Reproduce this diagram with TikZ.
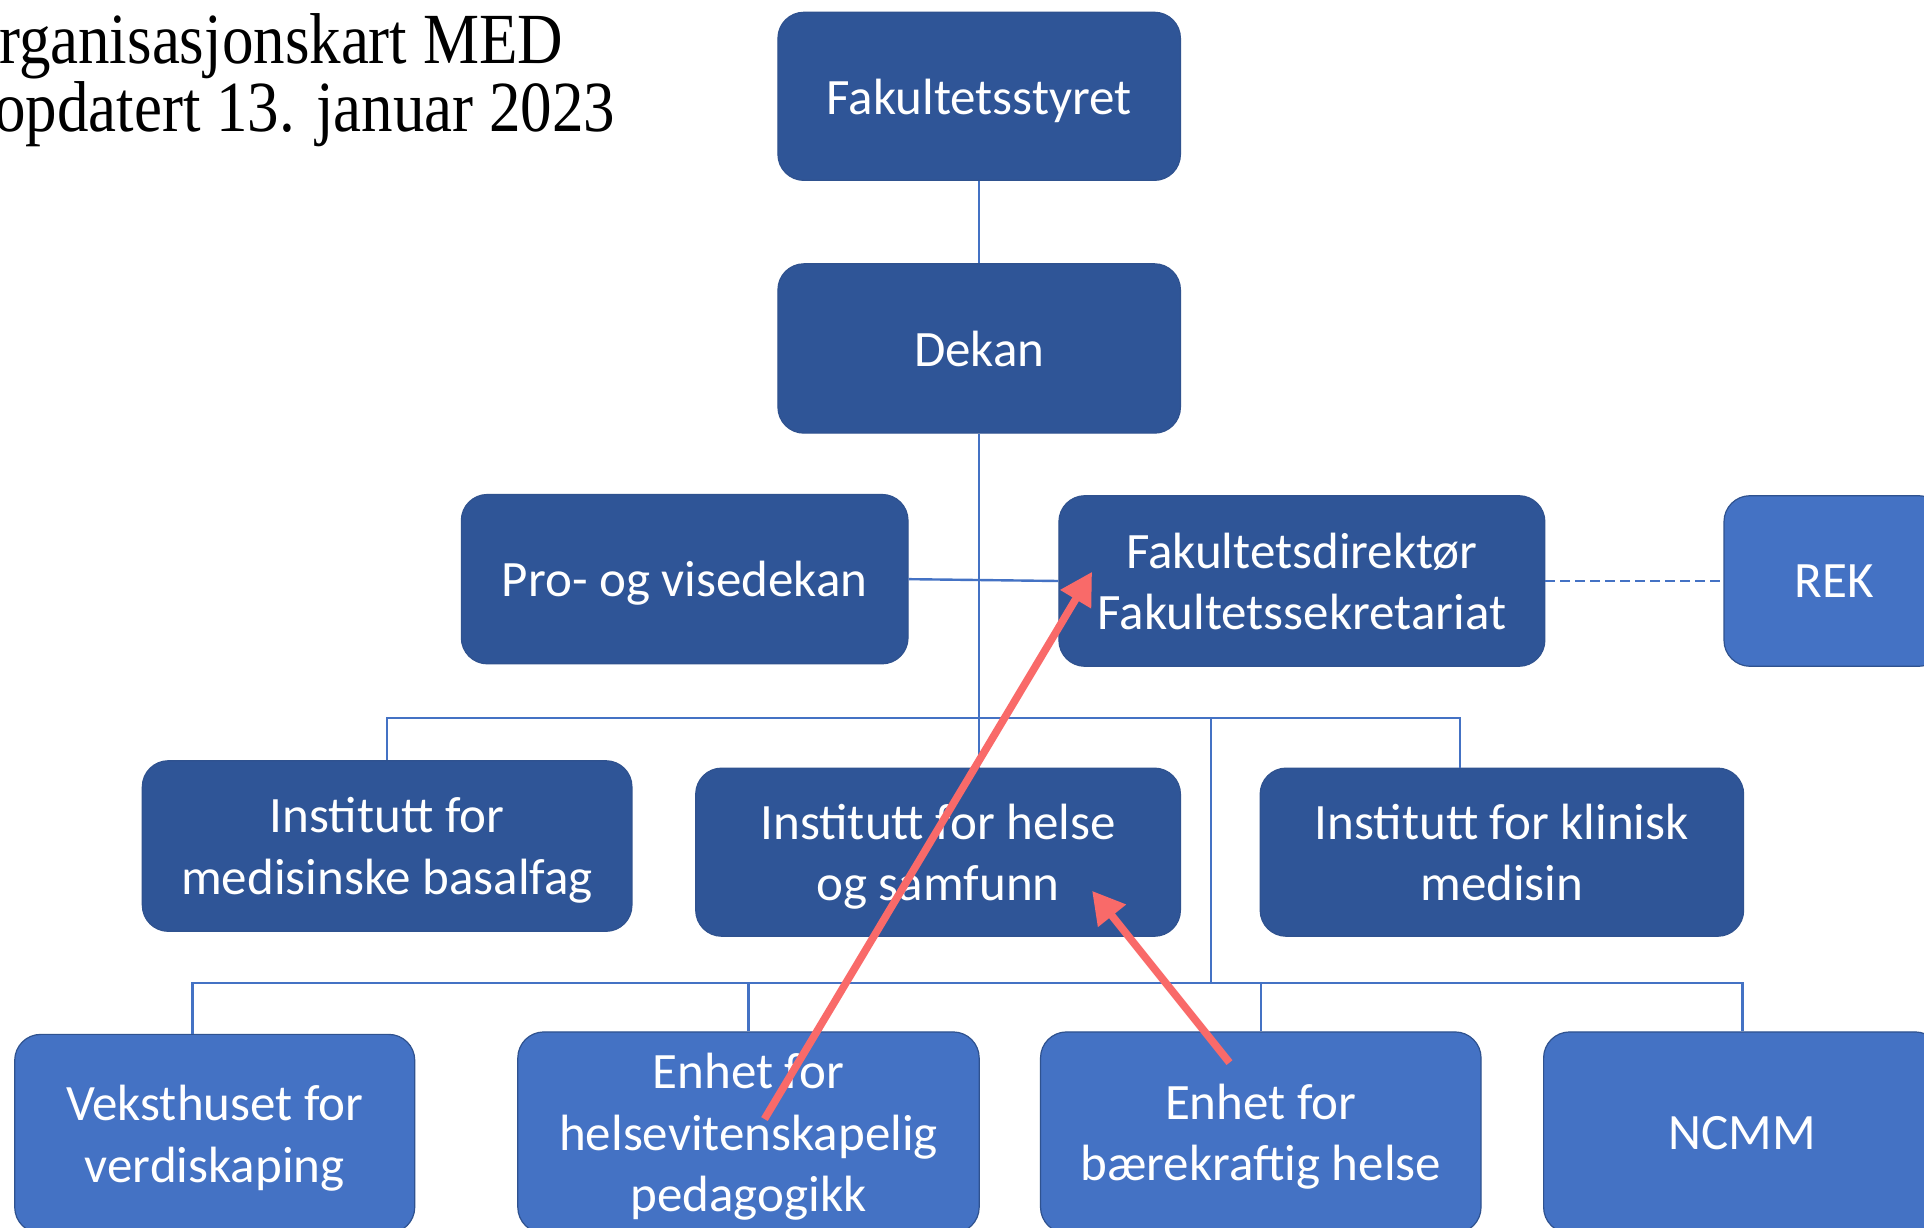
\documentclass[tikz,border=0pt]{standalone}
\usepackage{fontspec}
\setmainfont{Carlito}
\newfontfamily\titlefont[FakeStretch=0.875]{Liberation Serif}
\usetikzlibrary{arrows.meta}
\definecolor{dkblue}{HTML}{2F5597}
\definecolor{ltblue}{HTML}{4472C4}
\definecolor{edgeblue}{HTML}{2F528F}
\definecolor{linkblue}{HTML}{4472C4}
\definecolor{arrowred}{HTML}{F96A69}
\def\u{0.6135pt}
\tikzset{
 unitbox/.style={rectangle, rounded corners=13pt, draw=edgeblue, line width=0.6pt, text=white,
   font=\fontsize{25.5}{30.7}\selectfont, align=center, inner sep=0pt, text depth=0pt},
 darkbox/.style={unitbox, fill=dkblue},
 lightbox/.style={unitbox, fill=ltblue},
 link/.style={draw=linkblue, line width=1.2pt},
 dashlink/.style={link, line width=1.4pt, dash pattern=on 5pt off 2.5pt},
 redarrow/.style={draw=arrowred, line width=3.8pt, -{Triangle[length=16pt,width=17pt]}},
 titletext/.style={anchor=base west, inner sep=0pt, font=\titlefont\fontsize{36}{33.5}\selectfont}
}
\begin{document}
\begin{tikzpicture}[x=0.6135pt,y=-0.6135pt]
\useasboundingbox (0,0) rectangle (1568,1000);
\clip (0,0) rectangle (1568,1000);
\fill[white] (0,0) rectangle (1568,1000);

% title
\node[titletext] (t1) at (-1,52) {rganisasjonskart MED};
\node[titletext] (t2) at (-5,107) {opdatert 13. januar 2023};

% boxes
\node[darkbox, minimum width=328*\u, minimum height=137*\u] (styret) at (798,78.5) {Fakultetsstyret};
\node[darkbox, minimum width=328*\u, minimum height=138*\u] (dekan) at (798,284) {Dekan};
\node[darkbox, minimum width=364*\u, minimum height=138*\u] (pro) at (558,472) {Pro- og visedekan};
\node[darkbox, minimum width=396*\u, minimum height=139*\u] (dir) at (1061,473.5) {Fakultetsdirektør\\Fakultetssekretariat};
\node[lightbox, minimum width=180*\u, minimum height=139*\u] (rek) at (1495,473.5) {REK};

\node[darkbox, minimum width=399*\u, minimum height=139*\u] (basal) at (315.5,689.5) {Institutt for\\medisinske basalfag};
\node[darkbox, minimum width=395*\u, minimum height=137*\u] (helse) at (764.5,694.5) {Institutt for helse\\og samfunn};
\node[darkbox, minimum width=394*\u, minimum height=137*\u] (klinisk) at (1224,694.5) {Institutt for klinisk\\medisin};

\node[lightbox, minimum width=326*\u, minimum height=162*\u] (vekst) at (175,924) {Veksthuset for\\verdiskaping};
\node[lightbox, minimum width=376*\u, minimum height=164*\u] (ped) at (610,923) {Enhet for\\helsevitenskapelig\\pedagogikk};
\node[lightbox, minimum width=359*\u, minimum height=164*\u] (baer) at (1027.5,923) {Enhet for\\bærekraftig helse};
\node[lightbox, minimum width=324*\u, minimum height=164*\u] (ncmm) at (1420,923) {NCMM};

% bus coordinates
\coordinate (b2) at (1190,585);
\coordinate (b3) at (987,585);
\coordinate (b4) at (987,801);
\coordinate (c1) at (157,801);

% connectors
\draw[link] (styret.south) -- (dekan.north);
\draw[link] (dekan.south) -- (dekan.south |- helse.north);
\draw[link] (pro.east) -- (dir.west);
\draw[dashlink] (dir.east) -- (rek.west);
\draw[link] (basal.north) |- (b2) -- (b2 |- klinisk.north);
\draw[link] (b3) -- (b4);
\draw[link] (c1 |- vekst.north) -- (c1) -- (ncmm.north |- c1) -- (ncmm.north);
\draw[link] (ped.north) -- (ped.north |- c1);
\draw[link] (baer.north) -- (baer.north |- c1);

% red arrows
\coordinate (a1s) at (623,912);
\coordinate (a1e) at (890,466);
\coordinate (a2s) at (1002,866);
\coordinate (a2e) at (890,726);
\draw[redarrow] (a1s) -- (a1e);
\draw[redarrow] (a2s) -- (a2e);
\end{tikzpicture}
\end{document}
